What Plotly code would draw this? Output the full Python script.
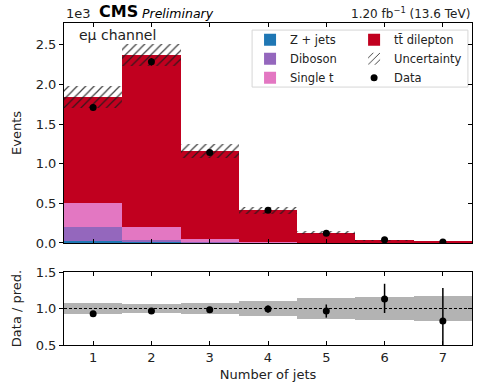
import numpy as np
import plotly.graph_objects as go

# ---------------- data ----------------
njets = [1, 2, 3, 4, 5, 6, 7]
zjets = [25, 8, 3, 1, 0.5, 0.2, 0.1]
diboson = [180, 32, 8, 3, 1, 0.3, 0.1]
single_t = [295, 165, 44, 12, 4, 1.5, 0.5]
ttbar = [1340, 2165, 1105, 399, 123, 33, 14]
data = [1710, 2285, 1140, 412, 124, 39.5, 12.2]
data_err = [41, 48, 34, 20, 11, 6, 3.5]
unc_rel = [0.075, 0.06, 0.08, 0.105, 0.14, 0.155, 0.17]
ratio_err_up = [0.022, 0.02, 0.029, 0.05, 0.09, 0.21, 0.45]
ratio_err_dn = [0.022, 0.02, 0.029, 0.05, 0.09, 0.19, 0.40]
ytick_vals = [0, 500, 1000, 1500, 2000, 2500]
ytick_text = ["0.0", "0.5", "1.0", "1.5", "2.0", "2.5"]
rtick_vals = [0.5, 1.0, 1.5]
rtick_text = ["0.5", "1.0", "1.5"]

FONT = "DejaVu Sans"
C_Z = "#1f77b4"
C_VV = "#9467bd"
C_T = "#e377c2"
C_TT = "#c1001f"

# stacking bases
stack = np.array([zjets, diboson, single_t, ttbar], dtype=float)
bases = np.vstack([np.zeros(len(njets)), np.cumsum(stack, axis=0)[:-1]])
total = stack.sum(axis=0)
unc_abs = total * np.array(unc_rel)
ratio = np.array(data) / total

fig = go.Figure()

procs = [("Z + jets", zjets, C_Z, "legend"),
         ("Diboson", diboson, C_VV, "legend"),
         ("Single t", single_t, C_T, "legend"),
         ("tt\u0304 dilepton", ttbar, C_TT, "legend2")]
for i, (name, vals, col, lg) in enumerate(procs):
    fig.add_trace(go.Bar(x=njets, y=vals, base=bases[i], width=1, name=name,
                         marker=dict(color=col, line=dict(width=0)),
                         legend=lg, xaxis="x", yaxis="y"))

fig.add_trace(go.Bar(x=njets, y=2 * unc_abs, base=total - unc_abs, width=1,
                     name="Uncertainty", legend="legend2",
                     marker=dict(color="rgba(0,0,0,0)", line=dict(width=0),
                                 pattern=dict(shape="/", fgcolor="#1a1a1a", fgopacity=0.85,
                                              bgcolor="rgba(0,0,0,0)", size=6,
                                              solidity=0.2, fillmode="overlay")),
                     xaxis="x", yaxis="y"))

fig.add_trace(go.Scatter(x=njets, y=data, mode="markers", name="Data", legend="legend2",
                         marker=dict(color="black", size=7),
                         error_y=dict(type="data", array=data_err, color="black",
                                      thickness=1.5, width=0),
                         xaxis="x", yaxis="y"))

# ratio panel
fig.add_trace(go.Bar(x=njets, y=2 * np.array(unc_rel), base=1 - np.array(unc_rel), width=1,
                     marker=dict(color="#b3b3b3", line=dict(width=0)), showlegend=False,
                     xaxis="x2", yaxis="y2"))
fig.add_trace(go.Scatter(x=njets, y=ratio, mode="markers", showlegend=False,
                         marker=dict(color="black", size=7),
                         error_y=dict(type="data", array=ratio_err_up, arrayminus=ratio_err_dn,
                                      symmetric=False, color="black", thickness=1.5, width=0),
                         xaxis="x2", yaxis="y2"))

# invisible helpers for right-side inside ticks
fig.add_trace(go.Scatter(x=[None], y=[None], xaxis="x", yaxis="y3", showlegend=False, hoverinfo="skip"))
fig.add_trace(go.Scatter(x=[None], y=[None], xaxis="x2", yaxis="y4", showlegend=False, hoverinfo="skip"))

TOP_DOM = [0.3168, 1.0]
BOT_DOM = [0.0, 0.2267]
YMAX = 2775

axis_common = dict(showgrid=False, zeroline=False, linecolor="black", linewidth=1,
                   tickcolor="black", ticklen=4, tickwidth=1, automargin=False,
                   tickfont=dict(family=FONT, size=13, color="#222"))

fig.update_layout(
    width=477, height=385,
    margin=dict(l=64, r=5, t=23, b=40),
    paper_bgcolor="white", plot_bgcolor="white",
    barmode="overlay", bargap=0,
    font=dict(family=FONT, size=13, color="#222"),
    xaxis=dict(domain=[0, 1], anchor="y", range=[0.5, 7.5], tickvals=njets,
               showticklabels=False, ticks="inside", mirror="ticks", matches="x2",
               **axis_common),
    yaxis=dict(domain=TOP_DOM, anchor="x", range=[0, YMAX], tickvals=ytick_vals,
               ticktext=ytick_text, ticks="outside", mirror=True,
               title=dict(text="Events", standoff=11, font=dict(family=FONT, size=13)),
               **axis_common),
    yaxis3=dict(overlaying="y", side="right", anchor="x", range=[0, YMAX],
                tickvals=ytick_vals, ticks="inside", showticklabels=False,
                showline=False, showgrid=False, zeroline=False, tickcolor="black",
                ticklen=4),
    xaxis2=dict(domain=[0, 1], anchor="y2", range=[0.5, 7.5], tickvals=njets,
                ticks="inside", mirror="ticks",
                title=dict(text="Number of jets", standoff=6, font=dict(family=FONT, size=13)),
                **axis_common),
    yaxis2=dict(domain=BOT_DOM, anchor="x2", range=[0.5, 1.5], tickvals=rtick_vals,
                ticktext=rtick_text, ticks="outside", mirror=True,
                title=dict(text="Data / pred.", standoff=11, font=dict(family=FONT, size=13)),
                **axis_common),
    yaxis4=dict(overlaying="y2", side="right", anchor="x2", range=[0.5, 1.5],
                tickvals=rtick_vals, ticks="inside", showticklabels=False,
                showline=False, showgrid=False, zeroline=False, tickcolor="black",
                ticklen=4),
    legend=dict(x=0.456, y=0.993, xanchor="left", yanchor="top", orientation="v",
                bgcolor="rgba(0,0,0,0)", borderwidth=0, tracegroupgap=0,
                traceorder="normal", font=dict(family=FONT, size=11.5, color="#222")),
    legend2=dict(x=0.711, y=0.993, xanchor="left", yanchor="top", orientation="v",
                 bgcolor="rgba(0,0,0,0)", borderwidth=0, tracegroupgap=0,
                 traceorder="normal", font=dict(family=FONT, size=11.5, color="#222")),
    showlegend=True,
)

# legend frame
fig.add_shape(type="rect", xref="paper", yref="paper", x0=0.461, x1=0.990, y0=0.801, y1=0.978,
              line=dict(color="#d6d6d6", width=1), fillcolor="rgba(255,255,255,0.8)",
              layer="below")
# dotted reference line in ratio
fig.add_shape(type="line", xref="x2 domain", yref="y2", x0=0, x1=1, y0=1, y1=1,
              line=dict(color="black", width=1, dash="3px,2px"), layer="above")

# text annotations
fig.add_annotation(xref="paper", yref="paper", x=0.0, y=1.0, xanchor="left", yanchor="bottom",
                   text="1e3", showarrow=False, font=dict(family=FONT, size=13, color="#222"))
fig.add_annotation(xref="paper", yref="paper", x=0.081, y=1.0, xanchor="left", yanchor="bottom",
                   text="<b>CMS</b>", showarrow=False, font=dict(family=FONT, size=16, color="black"))
fig.add_annotation(xref="paper", yref="paper", x=0.186, y=1.0, xanchor="left", yanchor="bottom",
                   text="<i>Preliminary</i>", showarrow=False,
                   font=dict(family=FONT, size=12.5, color="black"))
fig.add_annotation(xref="paper", yref="paper", x=1.0, y=1.0, xanchor="right", yanchor="bottom",
                   text="1.20 fb<sup>\u22121</sup> (13.6 TeV)", showarrow=False,
                   font=dict(family=FONT, size=12, color="#222"))
fig.add_annotation(xref="paper", yref="paper", x=0.031, y=0.963, xanchor="left", yanchor="middle",
                   text="e\u03bc channel", showarrow=False,
                   font=dict(family=FONT, size=14, color="#222"))

fig.write_html("out.html")
